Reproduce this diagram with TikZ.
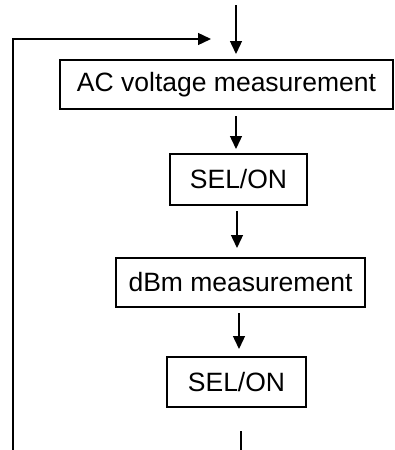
\documentclass[tikz,border=0pt]{standalone}
\usepackage{fontspec}
\setmainfont{Liberation Sans}
\usetikzlibrary{arrows.meta}
\begin{document}
\begin{tikzpicture}[x=1pt,y=-1pt,
  box/.style={draw,line width=1.4pt,inner sep=0pt,font=\fontsize{26.5}{30}\selectfont},
  conn/.style={line width=1.4pt},
  arr/.style={conn,-{Triangle[length=13pt,width=12pt]}}]
\useasboundingbox (0,0) rectangle (394,450);
\node[box,minimum width=333pt,minimum height=49pt] (b1) at (226.5,84.5) {AC voltage measurement};
\node[box,minimum width=137pt,minimum height=51pt] (b2) at (238.5,179.5) {SEL/ON};
\node[box,minimum width=249pt,minimum height=49pt] (b3) at (240.5,282.5) {dBm measurement};
\node[box,minimum width=139pt,minimum height=50pt] (b4) at (236.5,382) {SEL/ON};
\coordinate (t0) at (236,5);
\coordinate (t1) at (236,54);
\coordinate (a2s) at (236,116);
\coordinate (a2e) at (236,149);
\coordinate (a3s) at (237,211);
\coordinate (a3e) at (237,248);
\coordinate (a4s) at (239,313);
\coordinate (a4e) at (239,349);
\coordinate (bs) at (241,431);
\coordinate (be) at (241,450);
\coordinate (l0) at (13,450);
\coordinate (l1) at (13,39);
\coordinate (l2) at (211,39);
\draw[arr] (t0) -- (t1);
\draw[arr] (a2s) -- (a2e);
\draw[arr] (a3s) -- (a3e);
\draw[arr] (a4s) -- (a4e);
\draw[conn] (bs) -- (be);
\draw[arr] (l0) -- (l1) -- (l2);
\end{tikzpicture}
\end{document}
